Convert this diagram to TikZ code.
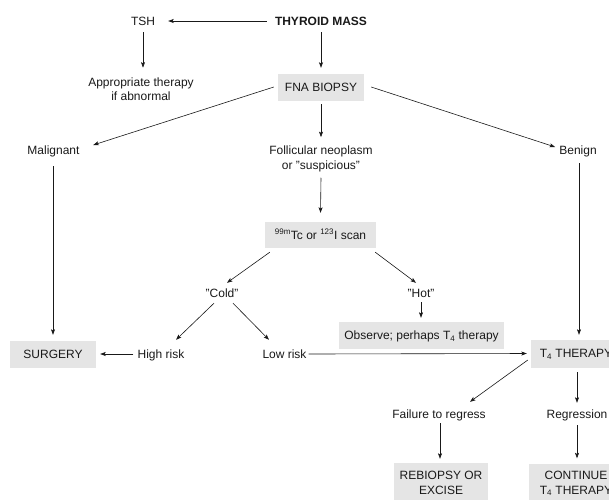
\documentclass[tikz,border=0pt]{standalone}
\usepackage{fontspec}
\setmainfont{Liberation Sans}
\usetikzlibrary{arrows.meta,calc}
\definecolor{boxgray}{RGB}{229,229,229}
\definecolor{ink}{RGB}{25,25,25}
\begin{document}
\begin{tikzpicture}[x=1pt,y=-1pt,
  every node/.style={font=\fontsize{12}{14.5}\selectfont, text=ink, inner sep=0pt},
  lbl/.style={text height=8.6pt, text depth=0pt},
  twoline/.style={align=center},
  gbox/.style={fill=boxgray, text height=8.6pt, text depth=0pt, minimum height=27pt},
  gboxii/.style={fill=boxgray, align=center, minimum height=40pt},
  arr/.style={draw=ink, line width=0.6pt, -{Stealth[length=5.5pt,width=4pt,inset=1.2pt]}}
]
\useasboundingbox (0,0) rectangle (609,499);
\clip (0,0) rectangle (609,499);

% nodes
\node[lbl] (tsh) at (143,21) {TSH};
\node[lbl, font=\fontsize{12}{14.5}\selectfont\bfseries] (mass) at (321,21) {THYROID MASS};
\node[twoline] (appr) at (141,89) {Appropriate therapy\\if abnormal};
\node[gbox, minimum width=86pt] (fna) at (321,87.5) {FNA BIOPSY};
\node[lbl] (mal) at (53.5,150) {Malignant};
\node[twoline] (foll) at (321,158.7) {Follicular neoplasm\\or "suspicious"};
\node[lbl] (ben) at (578,150) {Benign};
\node[gbox, minimum width=111pt, minimum height=26pt] (scan) at (320.5,235) {\textsuperscript{99m}Tc or \textsuperscript{123}I scan};
\node[lbl] (cold) at (222,293) {"Cold"};
\node[lbl] (hot) at (421,293) {"Hot"};
\node[gbox, minimum width=165pt] (obs) at (421.5,335.5) {Observe; perhaps T\textsubscript{4} therapy};
\node[gbox, minimum width=86pt] (surg) at (53,354) {SURGERY};
\node[lbl] (high) at (161,354) {High risk};
\node[lbl] (low) at (284.5,354) {Low risk};
\node[gbox, minimum width=90pt, minimum height=28pt] (t4) at (576,353.5) {T\textsubscript{4} THERAPY};
\node[lbl] (fail) at (439,414) {Failure to regress};
\node[lbl] (reg) at (577,414) {Regression};
\node[gboxii, minimum width=94pt] (rebi) at (441,483) {REBIOPSY OR\\EXCISE};
\node[gboxii, minimum width=94pt] (cont) at (576,483.5) {CONTINUE\\T\textsubscript{4} THERAPY};

% connectors
\draw[arr] ($(mass.west)+(-8,0)$) -- ($(tsh.east)+(13,0)$);
\draw[arr] ($(tsh.south)+(0,6.7)$) -- ($(tsh.south |- appr.north)+(0,-9.5)$);
\draw[arr] ($(mass.south)+(0,6.7)$) -- ($(fna.north)+(0,-6)$);
\draw[arr] ($(fna.west)+(-4,-0.5)$) -- ($(mal.east)+(13.5,-5)$);
\draw[arr] ($(fna.east)+(7,-0.5)$) -- ($(ben.west)+(-4,-3)$);
\draw[arr] ($(fna.south)+(0,3)$) -- ($(foll.north)+(0,-8.5)$);
\draw[arr] ($(foll.south)+(0,6)$) -- ($(scan.north)+(0,-9)$);
\draw[arr] ($(surg.north |- mal.south)+(0,11.7)$) -- ($(surg.north)+(0,-5.5)$);
\draw[arr] ($(ben.south)+(1,8.7)$) -- ($(ben.south |- t4.north)+(1,-4.5)$);
\draw[arr] ($(scan.south west)+(5,4)$) -- ($(cold.north)+(5,-5.7)$);
\draw[arr] ($(scan.south east)+(-1,4)$) -- ($(hot.north)+(-5,-5.7)$);
\draw[arr] ($(hot.south)+(0,4.7)$) -- ($(hot.south |- obs.north)+(0,-4)$);
\draw[arr] ($(cold.south)+(-8,5.7)$) -- ($(high.north)+(15,-9.7)$);
\draw[arr] ($(cold.south)+(11,5.7)$) -- ($(low.north)+(-15.5,-9.7)$);
\draw[arr] ($(high.west)+(-4,0)$) -- ($(surg.east)+(4,0)$);
\draw[arr] ($(low.east)+(2,0)$) -- ($(t4.west)+(-4,0)$);
\draw[arr] ($(t4.west)+(-3,6.5)$) -- ($(fail.north)+(31,-7.7)$);
\draw[arr] ($(t4.south -| reg.south)+(0,4.5)$) -- ($(reg.north)+(0,-6.7)$);
\draw[arr] ($(reg.south)+(0,6.7)$) -- ($(cont.north -| reg.south)+(0,-5)$);
\draw[arr] ($(fail.south)+(1,4.7)$) -- ($(fail.south |- rebi.north)+(1,-4)$);
\end{tikzpicture}
\end{document}
